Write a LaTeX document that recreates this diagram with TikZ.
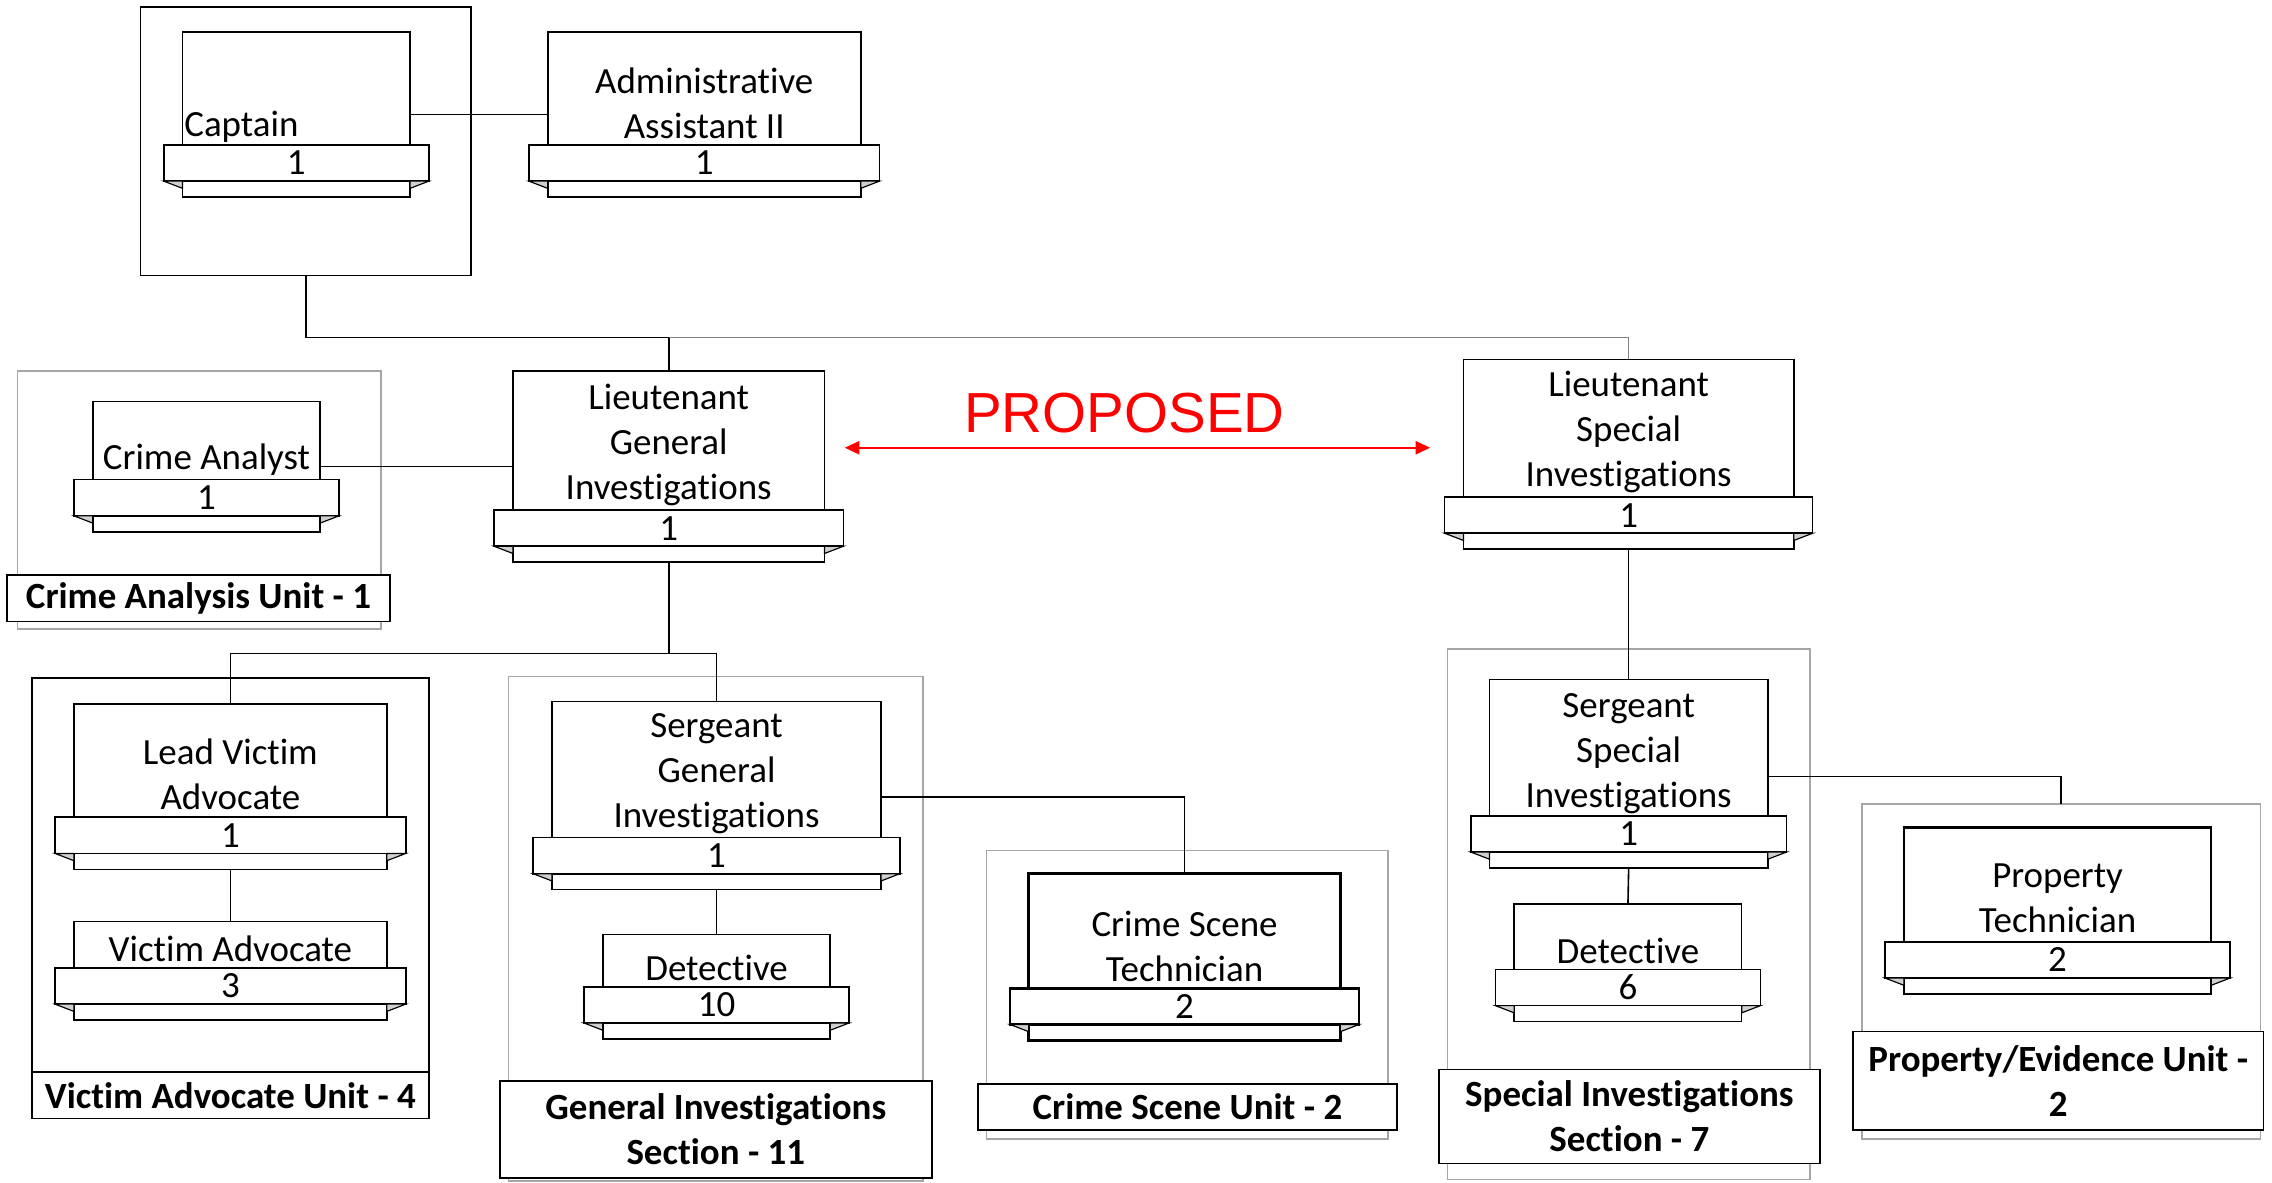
\documentclass[tikz,border=0pt]{standalone}
\usepackage{fontspec}
\setmainfont{Carlito}[RawFeature={-liga}]
\newfontfamily\arialf{Liberation Sans}
\usetikzlibrary{arrows.meta,calc}
\definecolor{grpgray}{HTML}{A6A6A6}
\definecolor{foldgray}{HTML}{D0D0D0}
\definecolor{propred}{HTML}{FF0000}
\tikzset{
 base/.style={line width=1.1pt},
 toprect/.style={draw,fill=white,base,inner sep=0pt,outer sep=0pt},
 bandrect/.style={draw,fill=white,base,inner sep=0pt,outer sep=0pt,font=\fontsize{25.5}{31}\selectfont},
 botrect/.style={draw,fill=white,base,inner sep=0pt,outer sep=0pt},
 fold/.style={draw,fill=foldgray,line width=0.8pt,line join=miter},
 title/.style={align=center,inner sep=0pt,font=\fontsize{25.5}{31}\selectfont},
 grp/.style={draw=grpgray,line width=1pt,inner sep=0pt,outer sep=0pt},
 blk/.style={draw,base,inner sep=0pt,outer sep=0pt},
 lbl/.style={draw,fill=white,base,inner sep=0pt,outer sep=0pt,align=center,font=\fontsize{25.5}{31}\selectfont\bfseries},
 conn/.style={line width=1.1pt},
 heavy/.style={line width=1.8pt},
}
% position box: [style] name x1 x2 ytop yband title titley count
\newcommand\posbox[9][]{%
 \node[toprect,#1,anchor=north west,minimum width={(#4-#3)*1pt},minimum height={(#6-#5)*1pt}] (#2) at (#3,#5) {};
 \node[bandrect,#1,anchor=north west,minimum width={(#4-#3+26)*1pt},minimum height=25pt] (#2-n) at ({#3-13},#6) {#9};
 \node[botrect,#1,anchor=north west,minimum width={(#4-#3)*1pt},minimum height=11pt] (#2-b) at (#3,{#6+25}) {};
 \draw[fold] (#2-n.south west) -- (#2-b.north west) -- ([yshift=-5pt]#2-b.north west) -- cycle;
 \draw[fold] (#2-n.south east) -- (#2-b.north east) -- ([yshift=-5pt]#2-b.north east) -- cycle;
 \node[title] (#2-t) at ({(#3+#4)/2},{#8+2}) {#7};
}
% rectangle node: [style] name x1 y1 x2 y2 text
\newcommand\rectnode[7][]{%
 \node[#1,anchor=north west,minimum width={(#5-#3)*1pt},minimum height={(#6-#4)*1pt}] (#2) at (#3,#4) {#7};
}
\begin{document}
\begin{tikzpicture}[x=1pt,y=-1pt]
\fill[white] (0,0) rectangle (1568,816);
\useasboundingbox (0,0) rectangle (1568,816);

% group boxes
\rectnode[blk]{capbox}{97}{5}{325}{190}{}
\rectnode[grp]{cau}{12}{256}{263}{434}{}
\rectnode[blk]{vau}{22}{468}{296}{772}{}
\rectnode[grp]{gis}{351}{467}{637}{815}{}
\rectnode[grp]{csu}{681}{587}{958}{786}{}
\rectnode[grp]{sis}{999}{448}{1249}{814}{}
\rectnode[grp]{peu}{1285}{555}{1560}{786}{}

% positions
\posbox{capt}{126}{283}{22}{100}{}{61}{1}
\node[title,anchor=base west] (capt-name) at (127,94) {Captain};
\posbox{adm}{378}{594}{22}{100}{Administrative\\Assistant II}{69.5}{1}
\posbox{ca}{64}{221}{277}{331}{Crime Analyst}{315}{1}
\posbox{lgi}{354}{569}{256}{352}{Lieutenant\\General\\Investigations}{305}{1}
\posbox{lsi}{1010}{1238}{248}{343}{Lieutenant\\Special\\Investigations}{296}{1}
\posbox{lva}{51}{267}{486}{564}{Lead Victim\\Advocate}{532.5}{1}
\posbox{va}{51}{267}{636}{668}{Victim Advocate}{653}{3}
\posbox{sgi}{381}{608}{484}{578}{Sergeant\\General\\Investigations}{532}{1}
\posbox{dgi}{416}{573}{645}{681}{Detective}{666}{10}
\posbox[heavy]{cst}{710}{925}{603}{682}{Crime Scene\\Technician}{651}{2}
\posbox{ssi}{1028}{1220}{469}{563}{Sergeant\\Special\\Investigations}{518}{1}
\posbox{dsi}{1045}{1202}{624}{669}{Detective}{654}{6}
\posbox[heavy]{pt}{1314}{1526}{571}{650}{Property\\Technician}{618}{2}

% connectors
\draw[conn] ([yshift=-18pt]capt.east) -- ([yshift=-18pt]adm.west);
\draw[conn] (capbox.south) |- ([yshift=23pt]lgi.north) -- (lgi.north);
\draw[conn,draw=gray] ([yshift=23pt]lgi.north) -| (lsi.north);
\draw[conn] ([yshift=-18pt]ca.east) -- ([yshift=-18pt]lgi.west);
\coordinate (br) at ($(lgi-b.south)+(0,63)$);
\draw[conn] (lgi-b.south) -- (br);
\draw[conn] (lva.north) |- (br) -| (sgi.north);
\draw[conn] (lva-b.south) -- (va.north);
\draw[conn] (sgi-b.south) -- (dgi.north);
\draw[conn] ([yshift=-19pt]sgi.east) -| (cst.north);
\draw[conn] (lsi-b.south) -- (ssi.north);
\draw[conn] (ssi-b.south) -- (dsi.north);
\draw[conn] ([yshift=-20pt]ssi.east) -| (peu.north);

% unit labels
\rectnode[lbl]{cau-l}{5}{397}{269}{429}{Crime Analysis Unit - 1}
\rectnode[lbl]{vau-l}{22}{740}{296}{772}{Victim Advocate Unit - 4}
\rectnode[lbl]{gis-l}{345}{746}{643}{813}{General Investigations\\Section - 11}
\rectnode[lbl]{csu-l}{675}{748}{964}{780}{Crime Scene Unit - 2}
\rectnode[lbl]{sis-l}{993}{738}{1256}{803}{Special Investigations\\Section - 7}
\rectnode[lbl]{peu-l}{1279}{712}{1562}{780}{Property/Evidence Unit -\\2}

% proposed
\node[text=propred,inner sep=0pt,font=\arialf\fontsize{39}{45}\selectfont] (prop) at (776,285) {PROPOSED};
\coordinate (pa) at (583,309);
\coordinate (pb) at (987,309);
\draw[propred,line width=1.5pt,{Triangle[length=10pt,width=9pt]}-{Triangle[length=10pt,width=9pt]}] (pa) -- (pb);
\end{tikzpicture}
\end{document}
